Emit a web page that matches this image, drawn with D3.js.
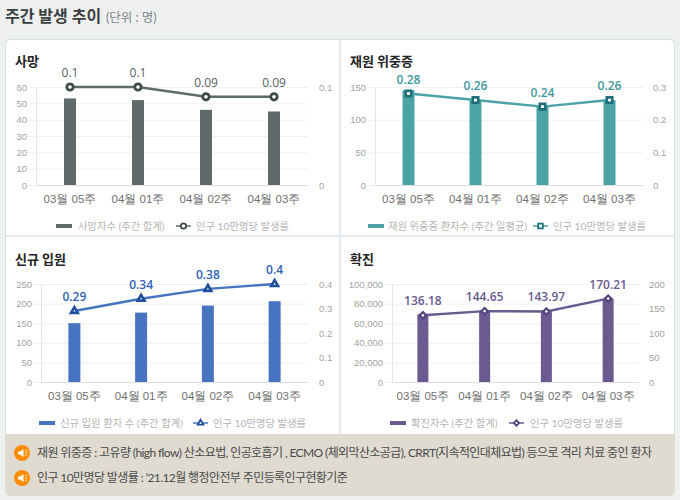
<!DOCTYPE html>
<html>
<head>
<meta charset="utf-8">
<script src="https://cdnjs.cloudflare.com/ajax/libs/d3/7.8.5/d3.min.js"></script>
<style>
html, body {margin: 0; padding: 0; background: #eef0f0;}
svg {display: block; font-family: Lato, "Noto Sans CJK KR", sans-serif;}
.grid line {stroke: #eff0f0;}
.tick text {fill: #a3a3a3; font-size: 9.5px;}
.axis-x text {fill: #6f6f6f; font-size: 11.5px;}
.legend {fill: #b5b5b5; font-size: 10.3px;}
.rate {font-family: "Open Sans", sans-serif;}
</style>
</head>
<body>
<svg id="chart" width="680" height="500"></svg>
<script>
//data
var weeks = ['03월 05주', '04월 01주', '04월 02주', '04월 03주']
var rateLegend = '인구 10만명당 발생률'

var deathCounts = [53, 52, 46, 45]
var deathRates = [0.1, 0.1, 0.09, 0.09]
var deathLeftTicks = [0, 10, 20, 30, 40, 50, 60]
var deathRightTicks = [0, 0.1]

var severeCounts = [145, 130, 120, 130]
var severeRates = [0.28, 0.26, 0.24, 0.26]
var severeLeftTicks = [0, 50, 100, 150]
var severeRightTicks = [0, 0.1, 0.2, 0.3]

var admitCounts = [150, 177, 195, 206]
var admitRates = [0.29, 0.34, 0.38, 0.4]
var admitLeftTicks = [0, 50, 100, 150, 200, 250]
var admitRightTicks = [0, 0.1, 0.2, 0.3, 0.4]

var caseCounts = [69000, 72500, 72000, 85000]
var caseRates = [136.18, 144.65, 143.97, 170.21]
var caseLeftTicks = [0, 20000, 40000, 60000, 80000, 100000]
var caseRightTicks = [0, 50, 100, 150, 200]

var notes = [
    '재원 위중증 : 고유량 (high flow) 산소요법, 인공호흡기 , ECMO (체외막산소공급), CRRT(지속적인대체요법) 등으로 격리 치료 중인 환자',
    '인구 10만명당 발생률 : \u201921.12월 행정안전부 주민등록인구현황기준'
]

var panels = [
    {title: '사망', counts: deathCounts, rates: deathRates, left: deathLeftTicks, right: deathRightTicks,
     legend: '사망자수 (주간 합계)', bar: '#5f6b6a', line: '#5f6b6a', mark: '#3f4a4a', label: '#555f5f', shape: 'circle',
     x: [36, 308], y: [185, 87], titleX: 15, titleY: 66, rightX: 319, legendX: [56, 78, 176, 196], legendY: 226, barW: 12},
    {title: '재원 위중증', counts: severeCounts, rates: severeRates, left: severeLeftTicks, right: severeRightTicks,
     legend: '재원 위중증 환자수 (주간 일평균)', bar: '#4ba3a6', line: '#4ba3a6', mark: '#1f6f78', label: '#3e9a9e', shape: 'square',
     x: [375, 643], y: [185, 87], titleX: 350, titleY: 66, rightX: 653, legendX: [368, 388, 533, 553], legendY: 226, barW: 12},
    {title: '신규 입원', counts: admitCounts, rates: admitRates, left: admitLeftTicks, right: admitRightTicks,
     legend: '신규 입원 환자 수 (주간 합계)', bar: '#4674c1', line: '#4674c1', mark: '#1f4e9c', label: '#2f62b5', shape: 'triangle',
     x: [41, 308], y: [382, 284], titleX: 15, titleY: 264, rightX: 319, legendX: [39, 60, 193, 213], legendY: 423, barW: 12},
    {title: '확진', counts: caseCounts, rates: caseRates, left: caseLeftTicks, right: caseRightTicks,
     legend: '확진자수 (주간 합계)', bar: '#6a5a8f', line: '#6a5a8f', mark: '#54447c', label: '#6a5a8f', shape: 'diamond',
     x: [392, 639], y: [382, 284], titleX: 350, titleY: 264, rightX: 649, legendX: [390, 411, 509, 530], legendY: 423, barW: 11}
]

//diamond is a square turned 45deg, d3's own one is too narrow
var symbols = {circle: d3.symbolCircle, square: d3.symbolSquare, triangle: d3.symbolTriangle, diamond: d3.symbolSquare}
var symbolSize = {circle: 32, square: 30, triangle: 20, diamond: 20}
var symbolTurn = {circle: 0, square: 0, triangle: 0, diamond: 45}
var symbolStroke = {circle: 2.8, square: 2.6, triangle: 2.6, diamond: 2.2}

var svg = d3.select('#chart')

//page frame
svg.append('text').attr('x', 5).attr('y', 22)
    .attr('font-size', 16).attr('font-weight', 700).attr('fill', '#3a3f42').text('주간 발생 추이')
svg.append('text').attr('x', 106).attr('y', 22)
    .attr('font-size', 12.5).attr('fill', '#7d8286').text('(단위 : 명)')

svg.append('rect').attr('x', 5.5).attr('y', 39.5).attr('width', 669).attr('height', 450).attr('rx', 4)
    .attr('fill', '#fff').attr('stroke', '#d3dfe6')
svg.append('line').attr('x1', 340).attr('x2', 340).attr('y1', 40).attr('y2', 434).attr('stroke', '#dde4e8').attr('stroke-width', 1.5)
svg.append('line').attr('x1', 6).attr('x2', 674).attr('y1', 236).attr('y2', 236).attr('stroke', '#dde4e8').attr('stroke-width', 1.5)

function drawPanel(p) {
    var g = svg.append('g')
    var step = (p.x[1] - p.x[0]) / weeks.length
    var pad = 1 - p.barW / step

    var x = d3.scaleBand().domain(weeks).range(p.x).paddingInner(pad).paddingOuter(pad / 2)
    var yLeft = d3.scaleLinear().domain([0, d3.max(p.left)]).range(p.y)
    var yRight = d3.scaleLinear().domain([0, d3.max(p.right)]).range(p.y)
    var mid = function(d, i) { return x(weeks[i]) + x.bandwidth() / 2 }

    g.append('text').attr('x', p.titleX).attr('y', p.titleY)
        .attr('font-size', 13).attr('font-weight', 700).attr('fill', '#222').text(p.title)

    //gridlines + left axis, ticks stick out left of the axis
    var left = g.append('g').attr('class', 'grid').attr('transform', 'translate(' + p.x[0] + ',0)')
        .call(d3.axisLeft(yLeft).tickValues(p.left).tickSize(-(p.x[1] - p.x[0])).tickPadding(9).tickFormat(d3.format(',')))
    left.select('.domain').attr('stroke', '#e4e6e6')
    left.selectAll('.tick line').attr('x1', -8)

    var right = g.append('g').attr('transform', 'translate(' + p.rightX + ',0)')
        .call(d3.axisRight(yRight).tickValues(p.right).tickSize(0).tickPadding(0).tickFormat(function(d) { return d }))
    right.select('.domain').remove()

    var bottom = g.append('g').attr('class', 'axis-x').attr('transform', 'translate(0,' + p.y[0] + ')')
        .call(d3.axisBottom(x).tickSize(0).tickPadding(10))
    bottom.select('.domain').attr('stroke', '#dcdfdf')

    g.selectAll('.bar').data(p.counts).enter().append('rect')
        .attr('class', 'bar')
        .attr('x', function(d, i) { return x(weeks[i]) })
        .attr('y', yLeft)
        .attr('width', x.bandwidth())
        .attr('height', function(d) { return p.y[0] - yLeft(d) })
        .attr('fill', p.bar)

    var line = d3.line().x(mid).y(yRight)
    g.append('path').datum(p.rates).attr('d', line)
        .attr('fill', 'none').attr('stroke', p.line).attr('stroke-width', 2.4)

    g.selectAll('.mark').data(p.rates).enter().append('path')
        .attr('class', 'mark')
        .attr('d', d3.symbol().type(symbols[p.shape]).size(symbolSize[p.shape]))
        .attr('transform', function(d, i) {
            return 'translate(' + mid(d, i) + ',' + yRight(d) + ') rotate(' + symbolTurn[p.shape] + ')'
        })
        .attr('fill', '#fff').attr('stroke', p.mark).attr('stroke-width', symbolStroke[p.shape])

    g.selectAll('.rate').data(p.rates).enter().append('text')
        .attr('class', 'rate')
        .attr('x', mid)
        .attr('y', function(d) { return yRight(d) - 10 })
        .attr('text-anchor', 'middle')
        .attr('font-size', 12)
        .attr('font-weight', p.shape == 'circle' ? 400 : 600)
        .attr('fill', p.label)
        .text(function(d) { return d })

    //legend
    var lx = p.legendX, ly = p.legendY
    g.append('rect').attr('x', lx[0]).attr('y', ly - 2).attr('width', 16).attr('height', 4).attr('fill', p.bar)
    g.append('text').attr('class', 'legend').attr('x', lx[1]).attr('y', ly + 3.5).text(p.legend)
    g.append('line').attr('x1', lx[2]).attr('x2', lx[2] + 15).attr('y1', ly).attr('y2', ly).attr('stroke', p.line).attr('stroke-width', 1.5)
    g.append('path').attr('d', d3.symbol().type(symbols[p.shape]).size(symbolSize[p.shape] * 0.7))
        .attr('transform', 'translate(' + (lx[2] + 7.5) + ',' + ly + ') rotate(' + symbolTurn[p.shape] + ')')
        .attr('fill', '#fff').attr('stroke', p.mark).attr('stroke-width', 1.8)
    g.append('text').attr('class', 'legend').attr('x', lx[3]).attr('y', ly + 3.5).text(rateLegend)
}

panels.forEach(drawPanel)

//note box
svg.append('path').attr('d', 'M5,434H675V490a6,6 0 0 1 -6,6H11a6,6 0 0 1 -6,-6Z').attr('fill', '#e0dbd0')

notes.forEach(function(n, i) {
    var cy = 453 + i * 25
    var g = svg.append('g').attr('transform', 'translate(22,' + cy + ')')
    g.append('circle').attr('r', 8).attr('fill', '#ff8c00')
    g.append('path').attr('d', 'M-4,-1.5H-2L1.5,-4V4L-2,1.5H-4Z').attr('fill', '#fff')
    g.append('path').attr('d', 'M3,-2L5,-3M3,0H5.5M3,2L5,3').attr('stroke', '#fff').attr('stroke-width', 0.8)
    svg.append('text').attr('x', 37).attr('y', cy + 4)
        .attr('font-size', 12).attr('letter-spacing', '-0.6px').attr('fill', '#4a4a4a').text(n)
})
</script>
</body>
</html>
